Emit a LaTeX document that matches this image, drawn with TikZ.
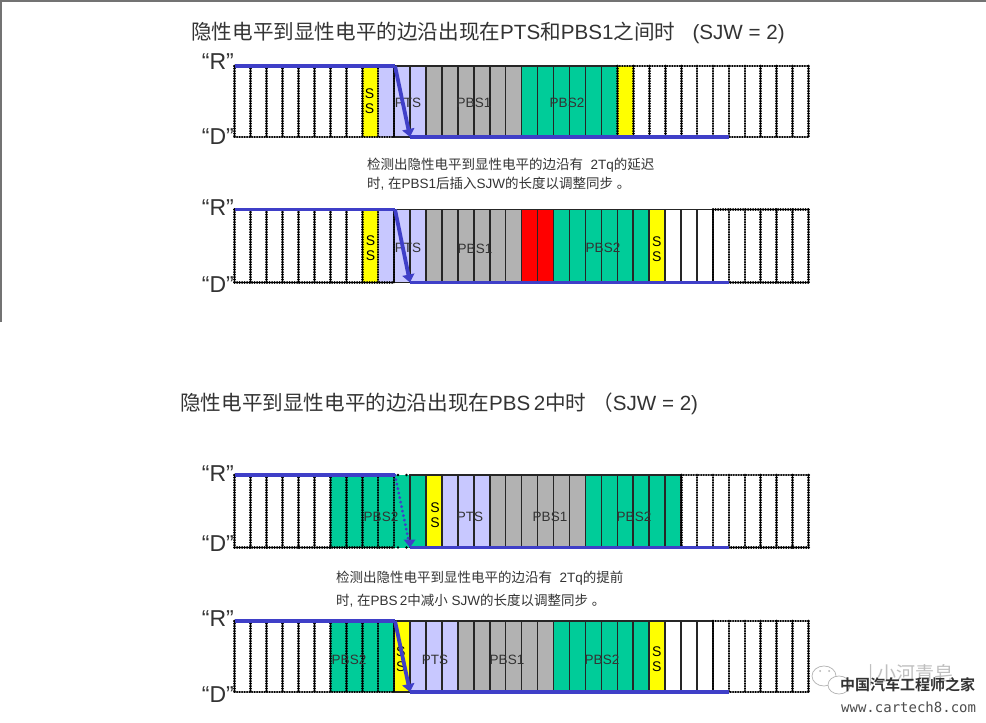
\documentclass[tikz,border=0pt]{standalone}
\usepackage{fontspec}
\setmainfont{Liberation Sans}
\newfontfamily\cjk{Noto Sans CJK SC}
\newfontfamily\cjkb{Noto Sans CJK SC Bold}
\newfontfamily\wm{DejaVu Sans Mono}
\usetikzlibrary{arrows.meta}
\definecolor{ptsc}{HTML}{C8C8FF}
\definecolor{pbsa}{HTML}{B2B2B2}
\definecolor{pbsb}{HTML}{00CC99}
\definecolor{sync}{HTML}{FFFF00}
\definecolor{wave}{HTML}{3F3FC8}
\definecolor{ink}{HTML}{333333}
\newcommand{\ttl}[1]{{\cjk #1}}
% \band{y0}{y1}{k0}{k1}{colour}
\newcommand{\band}[5]{\fill[#5] ({234.5+15.95*#3},#1) rectangle ({234.5+15.95*#4},#2);}
% \solidgrid{y0}{y1}{k0}{k1}
\newcommand{\solidgrid}[4]{%
  \draw[cellsolid] ({234.5+15.95*#3},#1) rectangle ({234.5+15.95*#4},#2);
  \pgfmathtruncatemacro{\kfrom}{#3}\pgfmathtruncatemacro{\kto}{#4}
  \foreach \k in {\kfrom,...,\kto}{\draw[cellsolid] ({234.5+15.95*\k},#1) -- ({234.5+15.95*\k},#2);}}
\newcommand{\dotgrid}[4]{%
  \draw[celldot] ({234.5+15.95*#3},#1) -- ({234.5+15.95*#4},#1);
  \draw[celldot] ({234.5+15.95*#3},#2) -- ({234.5+15.95*#4},#2);
  \pgfmathtruncatemacro{\kfrom}{#3}\pgfmathtruncatemacro{\kto}{#4}
  \foreach \k in {\kfrom,...,\kto}{\draw[celldot] ({234.5+15.95*\k},#1) -- ({234.5+15.95*\k},#2);}}
\tikzset{
  x=1pt,y=-1pt,
  cellsolid/.style={draw=black!85,line width=1.6pt},
  celldot/.style={draw=black,line width=2.8pt,line cap=round,dash pattern=on 0.2pt off 2.3pt},
  level/.style={font=\fontsize{23}{23}\selectfont,text=ink,anchor=east,inner sep=0pt},
  cell/.style={font=\fontsize{13.5}{13.5}\selectfont,text=ink,inner sep=0pt},
  ss/.style={font=\fontsize{14}{15}\selectfont,text=black,inner sep=0pt,align=center},
  heading/.style={font=\fontsize{20.6}{20.6}\selectfont,text=ink,anchor=west,inner sep=0pt},
  note/.style={font=\fontsize{13.5}{13.5}\selectfont,text=ink,anchor=west,inner sep=0pt},
  wavel/.style={draw=wave,line width=3.8pt,line join=round},
  tip/.style={-{Triangle[length=8pt,width=12pt]}},
}
\begin{document}
\begin{tikzpicture}
\useasboundingbox (0,0) rectangle (986,723);
\fill[white] (0,0) rectangle (986,723);
\draw[black!55,line width=2pt] (1,322) -- (1,0.7) -- (986,0.7);

% ---------- titles and notes
\node[heading] (t1) at (191,33) {\ttl{隐性电平到显性电平的边沿出现在}PTS\ttl{和}PBS1\ttl{之间时}\ \ \ (SJW = 2)};
\node[heading] (t2) at (180,403.5) {\ttl{隐性电平到显性电平的边沿出现在}PBS\,2\ttl{中时}\ \ttl{（}SJW = 2)};
\node[note] (n1) at (367,165) {\ttl{检测出隐性电平到显性电平的边沿有}\ \ 2Tq\ttl{的延迟}};
\node[note] (n2) at (367,184) {\ttl{时}, \ttl{在}PBS1\ttl{后插入}SJW\ttl{的长度以调整同步}\ \ttl{。}};
\node[note] (n3) at (336,578.5) {\ttl{检测出隐性电平到显性电平的边沿有}\ \ 2Tq\ttl{的提前}};
\node[note] (n4) at (336,600.5) {\ttl{时}, \ttl{在}PBS\,2\ttl{中减小}\ SJW\ttl{的长度以调整同步}\ \ttl{。}};

% ---------- row 1
\def\ya{66}\def\yb{137}
\band{\ya}{\yb}{8}{9}{sync}\band{\ya}{\yb}{9}{12}{ptsc}\band{\ya}{\yb}{12}{18}{pbsa}\band{\ya}{\yb}{18}{24}{pbsb}\band{\ya}{\yb}{24}{25}{sync}
\solidgrid{\ya}{\yb}{10}{24}
\dotgrid{\ya}{\yb}{0}{10}\dotgrid{\ya}{\yb}{24}{36}
\node[level] (r1) at (234,62) {“R”};\node[level] (d1) at (234,137) {“D”};
\node[ss] (s1) at (369.5,101) {S\\S};
\node[cell] (p1) at (408,103) {PTS};\node[cell] (b1) at (474,103) {PBS1};\node[cell] (g1) at (567,103) {PBS2};
\coordinate (a1) at (234.5,\ya);\coordinate (a2) at (395,\ya);\coordinate (a3) at (410,\yb);\coordinate (a4) at (729,\yb);
\draw[wavel] (a1) -- (a2);\draw[wavel,tip] (a2) -- (a3);\draw[wavel] (a3) -- (a4);

% ---------- row 2
\def\ya{209.5}\def\yb{282.5}
\band{\ya}{\yb}{8}{9}{sync}\band{\ya}{\yb}{9}{12}{ptsc}\band{\ya}{\yb}{12}{18}{pbsa}\band{\ya}{\yb}{18}{20}{red}\band{\ya}{\yb}{20}{26}{pbsb}\band{\ya}{\yb}{26}{27}{sync}
\solidgrid{\ya}{\yb}{10}{30}
\dotgrid{\ya}{\yb}{0}{10}\dotgrid{\ya}{\yb}{30}{36}
\node[level] (r2) at (234,208) {“R”};\node[level] (d2) at (234,285) {“D”};
\node[ss] (s2) at (370.5,248) {S\\S};\node[ss] (s3) at (656.7,249) {S\\S};
\node[cell] (p2) at (408,248) {PTS};\node[cell] (b2) at (475,249) {PBS1};\node[cell] (g2) at (603,248) {PBS2};
\coordinate (c1) at (234.5,\ya);\coordinate (c2) at (395,\ya);\coordinate (c3) at (410,\yb);\coordinate (c4) at (729,\yb);
\draw[wavel] (c1) -- (c2);\draw[wavel,tip] (c2) -- (c3);\draw[wavel] (c3) -- (c4);

% ---------- row 3
\def\ya{475}\def\yb{547.5}
\band{\ya}{\yb}{6}{12}{pbsb}\band{\ya}{\yb}{12}{13}{sync}\band{\ya}{\yb}{13}{16}{ptsc}\band{\ya}{\yb}{16}{22}{pbsa}\band{\ya}{\yb}{22}{28}{pbsb}
\solidgrid{\ya}{\yb}{11}{28}
\dotgrid{\ya}{\yb}{0}{10}\dotgrid{\ya}{\yb}{28}{36}
\node[level] (r3) at (234,474) {“R”};\node[level] (d3) at (234,544) {“D”};
\foreach \py in {\ya,\yb}{\fill (398,\py) circle (1.4pt);\fill (406.5,\py) circle (1.4pt);}
\node[ss] (s4) at (435,515.5) {S\\S};
\node[cell] (p3) at (470,517) {PTS};\node[cell] (b3) at (550,517) {PBS1};\node[cell] (g3) at (634,517) {PBS2};
\node[cell] (g4) at (381,517) {PBS2};
\coordinate (e1) at (234.5,\ya);\coordinate (e2) at (395,\ya);\coordinate (e3) at (410,\yb);\coordinate (e4) at (729,\yb);
\coordinate (e5) at (408.5,540);
\draw[wavel] (e1) -- (e2);
\draw[draw=wave,line width=3pt,line cap=round,dash pattern=on 0.2pt off 4.4pt] (e2) -- (e5);
\fill[wave] (403.5,539.5) -- (415.5,539.5) -- (e3) -- cycle;
\draw[wavel] (e3) -- (e4);

% ---------- row 4
\def\ya{621}\def\yb{692}
\band{\ya}{\yb}{6}{10}{pbsb}\band{\ya}{\yb}{10}{11}{sync}\band{\ya}{\yb}{11}{14}{ptsc}\band{\ya}{\yb}{14}{20}{pbsa}\band{\ya}{\yb}{20}{26}{pbsb}\band{\ya}{\yb}{26}{27}{sync}
\solidgrid{\ya}{\yb}{10}{30}
\dotgrid{\ya}{\yb}{0}{10}\dotgrid{\ya}{\yb}{30}{36}
\node[level] (r4) at (234,619) {“R”};\node[level] (d4) at (234,695) {“D”};
\node[ss] (s5) at (400.7,659) {S\\S};\node[ss] (s6) at (656.7,659) {S\\S};
\node[cell] (g5) at (349,660) {PBS2};\node[cell] (p4) at (435,660) {PTS};\node[cell] (b4) at (507,660) {PBS1};\node[cell] (g6) at (602,660) {PBS2};
\coordinate (f1) at (234.5,\ya);\coordinate (f2) at (395,\ya);\coordinate (f3) at (410,\yb);\coordinate (f4) at (729,\yb);
\draw[wavel] (f1) -- (f2);\draw[wavel,tip] (f2) -- (f3);\draw[wavel] (f3) -- (f4);

% ---------- watermark
\node[font=\cjk\fontsize{19}{19}\selectfont,text=black!25,anchor=west,inner sep=0pt] (w0) at (868,675) {| 小河青皂};
\draw[black!30,line width=0.7pt,fill=white] (824,676) ellipse (12pt and 10pt);
\fill[black!30] (820,671) circle (1pt) (829,671) circle (1pt);
\draw[black!30,line width=0.7pt,fill=white] (839,685) ellipse (11pt and 9pt);
\node[font=\cjkb\fontsize{15}{15}\selectfont,text=black!80,anchor=west,inner sep=0pt] (w1) at (840,685) {中国汽车工程师之家};
\node[font=\wm\fontsize{14}{14}\selectfont,text=black!70,anchor=west,inner sep=0pt] (w2) at (841,707) {www.cartech8.com};
\end{tikzpicture}
\end{document}
